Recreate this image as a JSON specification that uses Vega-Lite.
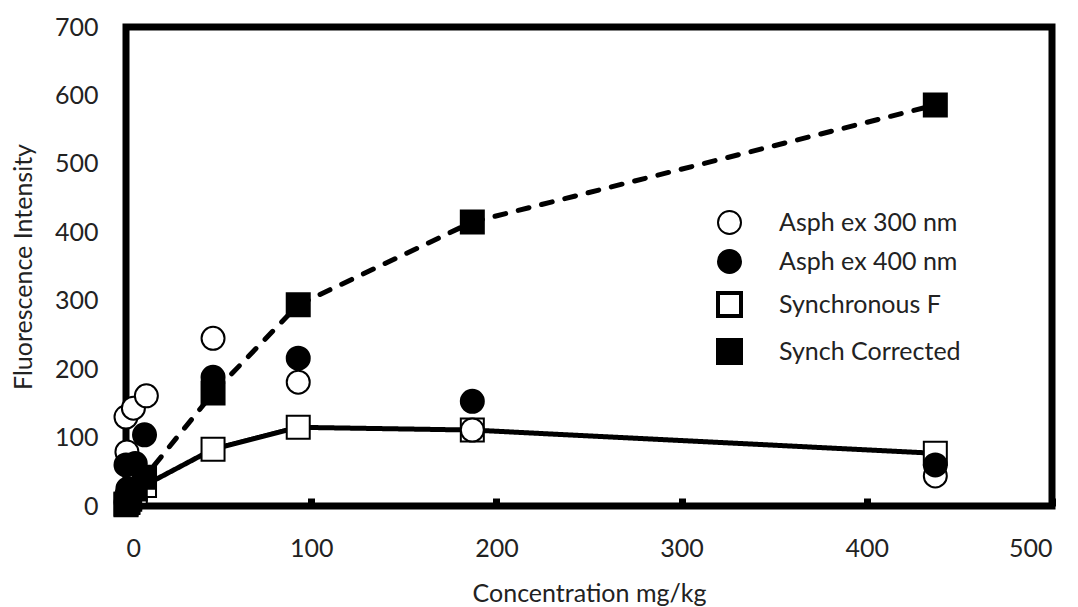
{
  "$schema": "https://vega.github.io/schema/vega-lite/v6.json",
  "width": 926,
  "height": 479,
  "autosize": {"type": "none"},
  "padding": {"left": 126, "top": 27, "right": 26, "bottom": 101},
  "background": "white",
  "config": {
    "font": "Lato",
    "view": {"stroke": "black", "strokeWidth": 7},
    "axis": {"labelFont": "Lato", "titleFont": "Lato", "labelColor": "#222", "titleColor": "#222", "labelFontSize": 25, "titleFontSize": 25, "titleFontWeight": "normal", "grid": false, "domain": false},
    "legend": {"orient": "none", "legendX": 591, "legendY": 183, "labelFont": "Lato", "labelFontSize": 25, "labelColor": "#222", "labelOffset": 37, "labelLimit": 400, "rowPadding": 8, "symbolStrokeColor": "black", "symbolOpacity": 1, "padding": 0}
  },
  "data": {
    "values": [
      {"series": "Synchronous F", "conc": 0, "fi": 2},
      {"series": "Synchronous F", "conc": 1, "fi": 5},
      {"series": "Synchronous F", "conc": 2, "fi": 10},
      {"series": "Synchronous F", "conc": 5, "fi": 20},
      {"series": "Synchronous F", "conc": 10, "fi": 30},
      {"series": "Synchronous F", "conc": 47, "fi": 83},
      {"series": "Synchronous F", "conc": 93, "fi": 115},
      {"series": "Synchronous F", "conc": 187, "fi": 111},
      {"series": "Synchronous F", "conc": 437, "fi": 77},
      {"series": "Synch Corrected", "conc": 0, "fi": 3},
      {"series": "Synch Corrected", "conc": 1, "fi": 6},
      {"series": "Synch Corrected", "conc": 2, "fi": 12},
      {"series": "Synch Corrected", "conc": 5, "fi": 25},
      {"series": "Synch Corrected", "conc": 10, "fi": 42},
      {"series": "Synch Corrected", "conc": 47, "fi": 165},
      {"series": "Synch Corrected", "conc": 93, "fi": 294},
      {"series": "Synch Corrected", "conc": 187, "fi": 415},
      {"series": "Synch Corrected", "conc": 437, "fi": 586},
      {"series": "Asph ex 300 nm", "conc": 0.5, "fi": 79},
      {"series": "Asph ex 300 nm", "conc": 0, "fi": 130},
      {"series": "Asph ex 300 nm", "conc": 4, "fi": 143},
      {"series": "Asph ex 300 nm", "conc": 11, "fi": 161},
      {"series": "Asph ex 300 nm", "conc": 47, "fi": 245},
      {"series": "Asph ex 300 nm", "conc": 93, "fi": 181},
      {"series": "Asph ex 300 nm", "conc": 187, "fi": 111},
      {"series": "Asph ex 300 nm", "conc": 437, "fi": 44},
      {"series": "Asph ex 400 nm", "conc": 0, "fi": 5},
      {"series": "Asph ex 400 nm", "conc": 1, "fi": 25},
      {"series": "Asph ex 400 nm", "conc": 0, "fi": 60},
      {"series": "Asph ex 400 nm", "conc": 5, "fi": 62},
      {"series": "Asph ex 400 nm", "conc": 10, "fi": 104},
      {"series": "Asph ex 400 nm", "conc": 47, "fi": 188},
      {"series": "Asph ex 400 nm", "conc": 93, "fi": 216},
      {"series": "Asph ex 400 nm", "conc": 187, "fi": 153},
      {"series": "Asph ex 400 nm", "conc": 437, "fi": 60}
    ]
  },
  "encoding": {
    "x": {"field": "conc", "type": "quantitative", "title": "Concentration mg/kg",
      "scale": {"domain": [0, 500], "nice": false, "zero": false},
      "axis": {"values": [0, 100, 200, 300, 400, 500], "tickSize": -8, "tickWidth": 7, "tickColor": "black", "labelPadding": 38, "titlePadding": 20}},
    "y": {"field": "fi", "type": "quantitative", "title": "Fluorescence Intensity",
      "scale": {"domain": [0, 700], "nice": false},
      "axis": {"values": [0, 100, 200, 300, 400, 500, 600, 700], "ticks": false, "labelPadding": 28, "titlePadding": 18}}
  },
  "layer": [
    {
      "transform": [{"filter": "datum.series === 'Synchronous F' || datum.series === 'Synch Corrected'"}],
      "mark": {"type": "line", "color": "black", "strokeWidth": 5, "strokeCap": "round"},
      "encoding": {
        "strokeDash": {"field": "series", "type": "nominal", "legend": null,
          "scale": {"domain": ["Synchronous F", "Synch Corrected"], "range": [[1, 0], [11, 13]]}}
      }
    },
    {
      "mark": {"type": "point", "filled": true, "stroke": "black", "strokeWidth": 2, "opacity": 1},
      "encoding": {
        "fill": {"field": "series", "type": "nominal", "title": null,
          "scale": {"domain": ["Asph ex 300 nm", "Asph ex 400 nm", "Synchronous F", "Synch Corrected"], "range": ["white", "black", "white", "black"]},
          "legend": {
            "encode": {"symbols": {"update": {
              "shape": {"signal": "datum.value === 'Synchronous F' ? 'M-3.8,0H-1M1,0H3.8M-1,-1H1V1H-1Z' : (datum.value === 'Synch Corrected' ? 'M-3.8,0H-2.5M-2,0H-1M1,0H1.8M2.7,0H3.7M-1,-1H1V1H-1Z' : 'circle')"},
              "size": {"signal": "datum.value === 'Synchronous F' || datum.value === 'Synch Corrected' ? 441 : 400"},
              "strokeWidth": {"signal": "datum.value === 'Synchronous F' || datum.value === 'Synch Corrected' ? 4 : 2"},
              "stroke": {"value": "black"}
            }}}}},
        "shape": {"field": "series", "type": "nominal", "title": null,
          "scale": {"domain": ["Asph ex 300 nm", "Asph ex 400 nm", "Synchronous F", "Synch Corrected"], "range": ["circle", "circle", "square", "square"]}},
        "size": {"field": "series", "type": "nominal", "title": null,
          "scale": {"domain": ["Asph ex 300 nm", "Asph ex 400 nm", "Synchronous F", "Synch Corrected"], "range": [529, 529, 625, 784]}}
      }
    }
  ]
}
